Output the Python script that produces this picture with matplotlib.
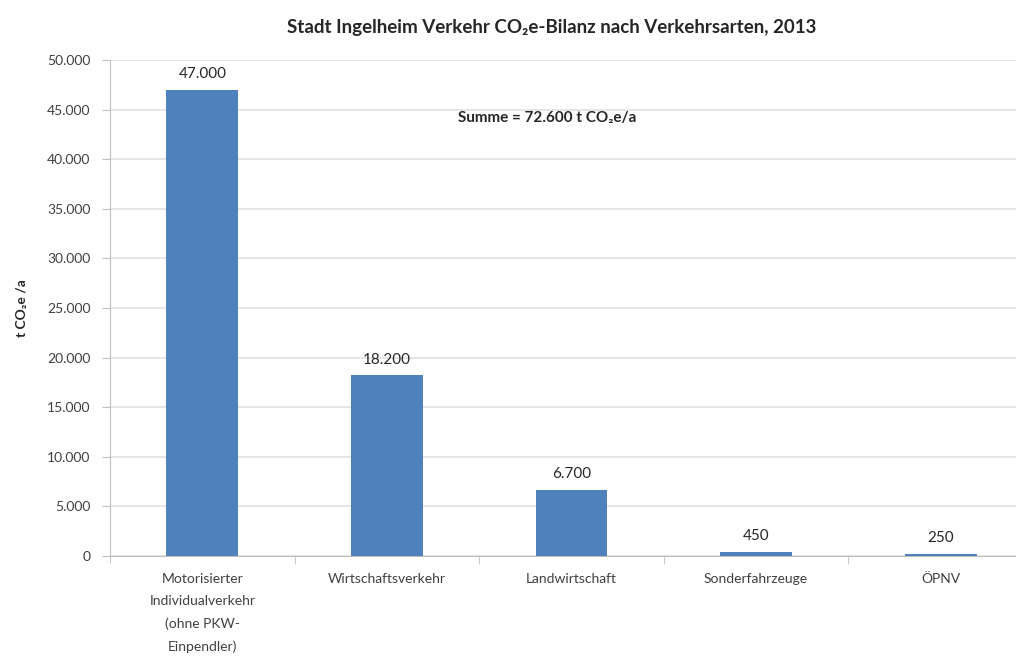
import matplotlib
matplotlib.use("Agg")
import matplotlib.pyplot as plt
import numpy as np

categories = ["Motorisierter\nIndividualverkehr\n(ohne PKW-\nEinpendler)", "Wirtschaftsverkehr",
              "Landwirtschaft", "Sonderfahrzeuge", "ÖPNV"]
values = [47000, 18200, 6700, 450, 250]
yticks = list(range(0, 50001, 5000))

plt.rcParams['font.family'] = ['Lato', 'DejaVu Sans']

def fmt(v):
    return f"{v:,.0f}".replace(",", ".")

fig = plt.figure(figsize=(10.16, 6.66), dpi=100)
ax = fig.add_axes([110/1016, 110/666, 923/1016, 496/666])
x = np.arange(len(values))
ax.bar(x, values, width=0.39, color="#4F81BD", zorder=3)
ax.set_xlim(-0.5, len(values) - 0.5)
ax.set_ylim(0, 50000)
ax.set_yticks(yticks)
ax.set_yticklabels([fmt(v) for v in yticks], fontsize=10, color="#404040")
ax.yaxis.grid(True, color="#E0E0E0", linewidth=1.2, zorder=0)
ax.set_xticks(x)
ax.set_xticklabels(categories, fontsize=10, color="#404040", linespacing=2.0)
ax.tick_params(axis='x', length=0, pad=12)
ax.set_xticks(np.arange(-0.5, len(values), 1.0), minor=True)
ax.tick_params(axis='x', which='minor', length=6, color="#BFBFBF")
ax.tick_params(axis='y', length=6, color="#BFBFBF", pad=8)
for s in ["top", "right"]:
    ax.spines[s].set_visible(False)
ax.spines["left"].set_color("#BFBFBF")
ax.spines["bottom"].set_color("#BFBFBF")

for xi, v in zip(x, values):
    ax.text(xi, v + 900, fmt(v), ha="center", va="bottom", fontsize=11, color="#262626")

fig.text(552/1016, 1 - 28/666, "Stadt Ingelheim Verkehr CO₂e-Bilanz nach Verkehrsarten, 2013",
         ha="center", va="center", fontsize=13.5, fontweight="bold", color="#262626")
ax.set_ylabel("t CO₂e /a", fontsize=10, fontweight="bold", color="#262626", labelpad=14)
ax.text(0.377, 0.883, "Summe = 72.600 t CO₂e/a", transform=ax.transAxes, ha="left", va="center",
        fontsize=11, fontweight="bold", color="#262626")

fig.savefig("out.png", dpi=100)
